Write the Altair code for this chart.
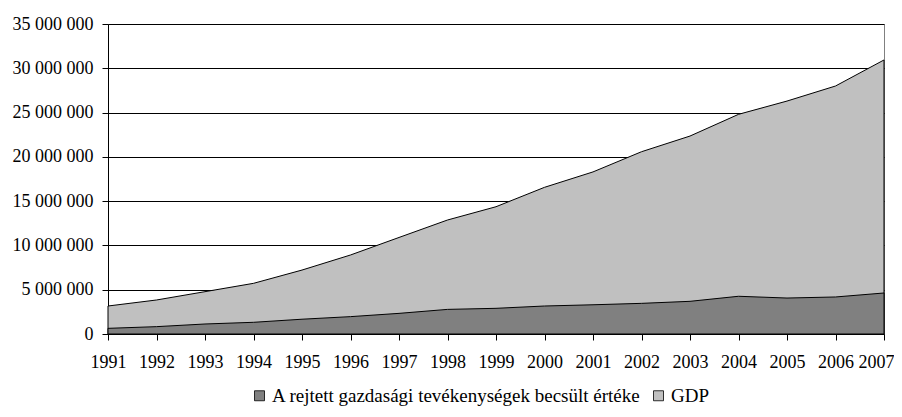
import altair as alt
import pandas as pd

years = list(range(1991, 2008))
gdp = [3160000, 3840000, 4780000, 5720000, 7220000, 8920000, 10900000, 12870000,
       14370000, 16560000, 18300000, 20580000, 22350000, 24800000, 26300000,
       28000000, 30940000]
hidden = [640000, 830000, 1130000, 1320000, 1670000, 1960000, 2330000, 2780000,
          2900000, 3160000, 3300000, 3460000, 3690000, 4260000, 4060000,
          4180000, 4630000]
s_hidden = "A rejtett gazdasági tevékenységek becsült értéke"
s_gdp = "GDP"
y_ticks = [0, 5000000, 10000000, 15000000, 20000000, 25000000, 30000000, 35000000]

df = pd.DataFrame(
    {"year": years * 2,
     "value": hidden + gdp,
     "series": [s_hidden] * len(years) + [s_gdp] * len(years)}
)

FONT = "Liberation Serif"

color = alt.Color(
    "series:N",
    scale=alt.Scale(domain=[s_hidden, s_gdp], range=["#808080", "#c0c0c0"]),
    legend=alt.Legend(
        title=None, orient="none", direction="horizontal",
        legendX=142, legendY=362,
        symbolType="square", symbolSize=100, symbolStrokeColor="black",
        symbolStrokeWidth=0.8, symbolOpacity=1,
        labelFont=FONT, labelFontSize=19, labelColor="black", labelLimit=700,
        labelOffset=3, columnPadding=8,
    ),
)

x = alt.X("year:Q", scale=alt.Scale(domain=[1991, 2007], nice=False, zero=False),
          axis=alt.Axis(title=None, values=years, format="d", grid=False,
                        labelFont=FONT, labelFontSize=18, labelColor="black",
                        tickColor="black", tickSize=6, labelPadding=13,
                        domainColor="black", labelFlush=False,
                        labelAlign={"expr": "datum.value == 2007 ? 'right' : 'center'"},
                        labelOffset={"expr": "datum.value == 2007 ? 10 : 0"}))
y = alt.Y("value:Q", stack=None,
          scale=alt.Scale(domain=[0, 35000000], nice=False),
          axis=alt.Axis(title=None, values=y_ticks, format=",d",
                        labelFont=FONT, labelFontSize=18, labelColor="black",
                        tickColor="black", tickSize=6, labelPadding=9,
                        domainColor="black", gridColor="black", gridWidth=1))

base = alt.Chart(df)
gdp_layer = base.transform_filter(alt.datum.series == s_gdp).mark_area(
    stroke="black", strokeWidth=1, opacity=1
).encode(x=x, y=y, color=color)
hid_layer = base.transform_filter(alt.datum.series == s_hidden).mark_area(
    stroke="black", strokeWidth=1, opacity=1
).encode(x=x, y=y, color=color)

chart = alt.layer(gdp_layer, hid_layer).properties(
    width=776, height=310,
    autosize=alt.AutoSizeParams(type="none"),
    padding={"left": 100, "top": 16, "right": 10, "bottom": 75},
).configure(
    locale={"number": {"decimal": ",", "thousands": " ", "grouping": [3],
                       "currency": ["", ""]}}
).configure_view(stroke="#808080", strokeWidth=1)

chart.save("out.html", embed_options={"renderer": "svg", "actions": False})
